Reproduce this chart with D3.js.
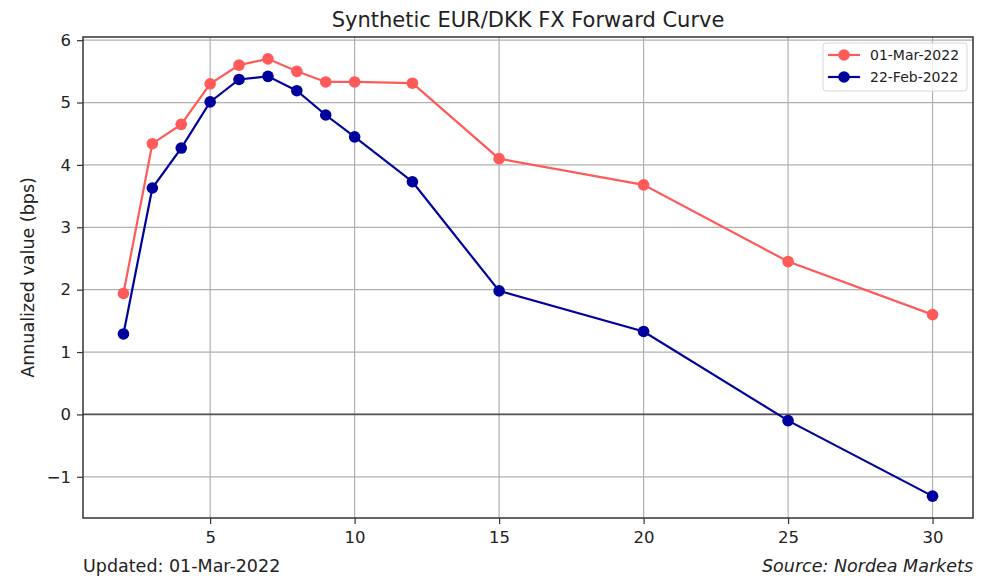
<!DOCTYPE html>
<html>
<head>
<meta charset="utf-8">
<script src="https://cdn.jsdelivr.net/npm/d3@7"></script>
<style>
  body { margin: 0; background: #fff; }
  svg { font-family: "DejaVu Sans", sans-serif; }
  .axis path, .axis line { stroke: #333; stroke-width: 1.2; }
  .grid line { stroke: #b0b0b0; stroke-width: 1.2; }
</style>
</head>
<body>
<div id="chart"></div>
<script>
// tenor in years
var tenors = [2, 3, 4, 5, 6, 7, 8, 9, 10, 12, 15, 20, 25, 30]
var mar01 = [1.94, 4.34, 4.65, 5.30, 5.60, 5.70, 5.50, 5.33, 5.33, 5.31, 4.10, 3.68, 2.45, 1.60]
var feb22 = [1.29, 3.63, 4.27, 5.01, 5.37, 5.42, 5.19, 4.80, 4.45, 3.73, 1.98, 1.33, -0.10, -1.31]
var seriesNames = ["01-Mar-2022", "22-Feb-2022"]
var seriesColors = ["#ff5a5a", "#00009c"]
var xTicks = [5, 10, 15, 20, 25, 30]
var yTicks = [-1, 0, 1, 2, 3, 4, 5, 6]

var W = 994, H = 576
var margin = {top: 37, right: 21, bottom: 58, left: 83},
    width  = W - margin.left - margin.right,
    height = H - margin.top - margin.bottom

var svg = d3.select("#chart").append("svg")
  .attr("width", W)
  .attr("height", H)

var g = svg.append("g")
  .attr("transform", "translate(" + margin.left + "," + margin.top + ")")

var allY = mar01.concat(feb22)
var xPad = (d3.max(tenors) - d3.min(tenors)) * 0.05
var yPad = (d3.max(allY) - d3.min(allY)) * 0.05

var x = d3.scaleLinear()
  .domain([d3.min(tenors) - xPad, d3.max(tenors) + xPad])
  .range([0, width])

var y = d3.scaleLinear()
  .domain([d3.min(allY) - yPad, d3.max(allY) + yPad])
  .range([height, 0])

// grid
g.append("g").attr("class", "grid")
  .selectAll("line").data(xTicks).enter().append("line")
  .attr("x1", d => x(d)).attr("x2", d => x(d))
  .attr("y1", 0).attr("y2", height)

g.append("g").attr("class", "grid")
  .selectAll("line").data(yTicks).enter().append("line")
  .attr("x1", 0).attr("x2", width)
  .attr("y1", d => y(d)).attr("y2", d => y(d))

// zero line
g.append("line")
  .attr("x1", 0).attr("x2", width)
  .attr("y1", y(0)).attr("y2", y(0))
  .attr("stroke", "#555")
  .attr("stroke-width", 1.8)

// axes
var xAxis = g.append("g")
  .attr("class", "axis x")
  .attr("transform", "translate(0," + height + ")")
  .call(d3.axisBottom(x).tickValues(xTicks).tickSize(6).tickPadding(7).tickSizeOuter(0))

var yAxis = g.append("g")
  .attr("class", "axis y")
  .call(d3.axisLeft(y).tickValues(yTicks).tickSize(6).tickPadding(6).tickSizeOuter(0)
    .tickFormat(d => d < 0 ? "\u2212" + Math.abs(d) : d))

g.selectAll(".axis .domain").remove()
g.selectAll(".axis").attr("font-family", null).attr("font-size", null)
g.selectAll(".axis text").attr("font-size", 16.5).attr("fill", "#222")

// frame
g.append("rect")
  .attr("width", width).attr("height", height)
  .attr("fill", "none")
  .attr("stroke", "#333")
  .attr("stroke-width", 1.5)

var line = d3.line()
  .x(d => x(d[0]))
  .y(d => y(d[1]))

;[mar01, feb22].forEach((vals, i) => {
  var pts = tenors.map((t, j) => [t, vals[j]])
  g.append("path")
    .datum(pts)
    .attr("fill", "none")
    .attr("stroke", seriesColors[i])
    .attr("stroke-width", 2.2)
    .attr("d", line)
  g.append("g").selectAll("circle")
    .data(pts).enter().append("circle")
    .attr("cx", d => x(d[0]))
    .attr("cy", d => y(d[1]))
    .attr("r", 5.8)
    .attr("fill", seriesColors[i])
})

// legend
var lg = g.append("g")
  .attr("transform", "translate(" + (width - 150) + ",6)")
lg.append("rect")
  .attr("width", 144).attr("height", 48)
  .attr("rx", 3)
  .attr("fill", "#fff").attr("fill-opacity", 0.8)
  .attr("stroke", "#d6d6d6")
seriesNames.forEach((name, i) => {
  var row = lg.append("g").attr("transform", "translate(0," + (12 + i * 22) + ")")
  row.append("line")
    .attr("x1", 5).attr("x2", 37)
    .attr("stroke", seriesColors[i]).attr("stroke-width", 2.2)
  row.append("circle")
    .attr("cx", 21).attr("r", 5.8)
    .attr("fill", seriesColors[i])
  row.append("text")
    .attr("x", 47).attr("dy", "0.35em")
    .attr("font-size", 14).attr("fill", "#222")
    .text(name)
})

// titles
svg.append("text")
  .attr("x", margin.left + width / 2).attr("y", 27)
  .attr("text-anchor", "middle")
  .attr("font-size", 21).attr("fill", "#222")
  .text("Synthetic EUR/DKK FX Forward Curve")

svg.append("text")
  .attr("transform", "translate(34," + (margin.top + height / 2) + ") rotate(-90)")
  .attr("text-anchor", "middle")
  .attr("font-size", 17.5).attr("fill", "#222")
  .text("Annualized value (bps)")

svg.append("text")
  .attr("x", margin.left).attr("y", 572)
  .attr("font-size", 17.5).attr("fill", "#222")
  .text("Updated: 01-Mar-2022")

svg.append("text")
  .attr("x", W - margin.right).attr("y", 572)
  .attr("text-anchor", "end")
  .attr("font-size", 17.5).attr("font-style", "italic").attr("fill", "#222")
  .text("Source: Nordea Markets")
</script>
</body>
</html>
